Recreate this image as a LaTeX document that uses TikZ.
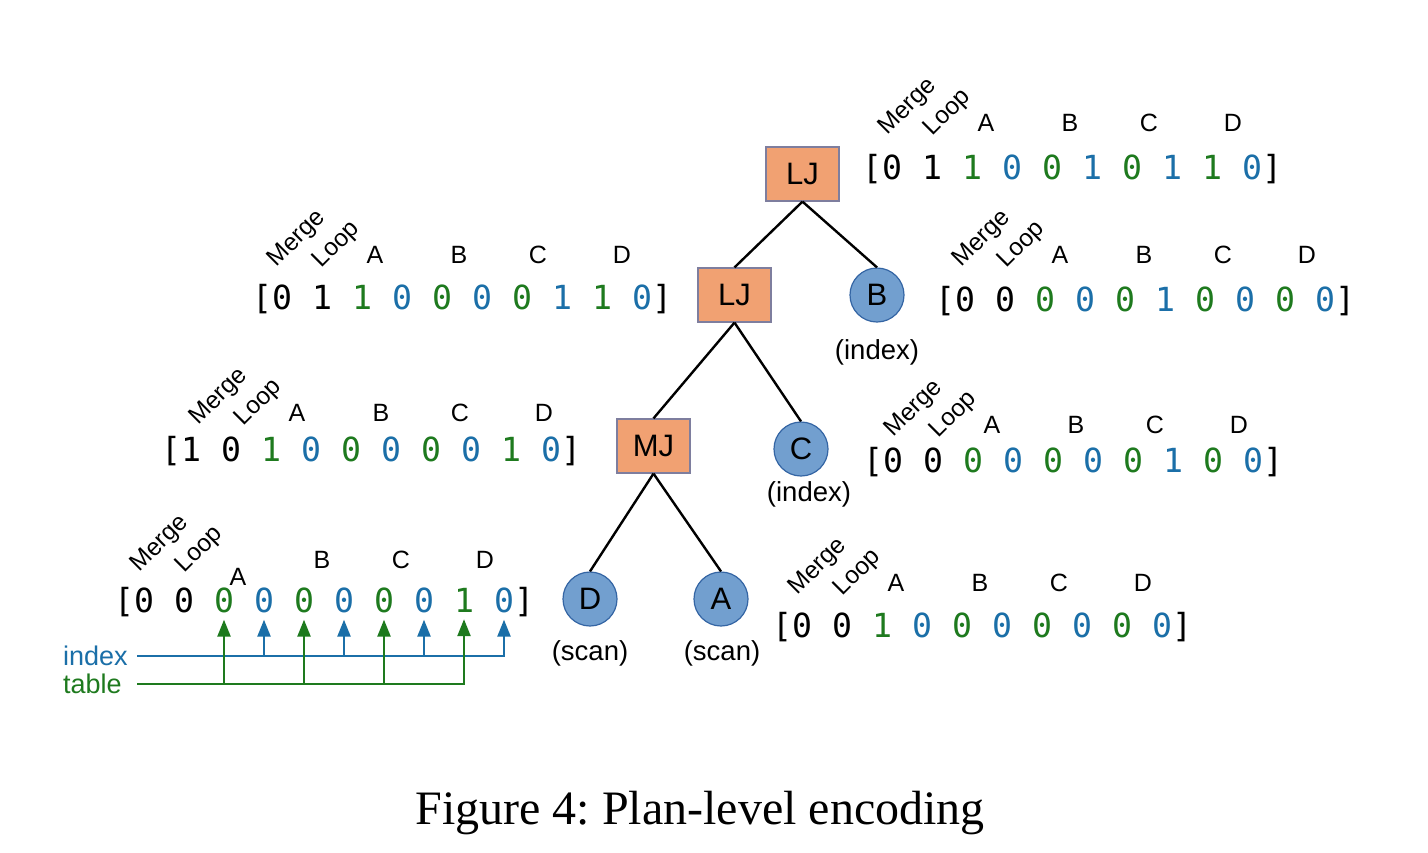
\documentclass[tikz,border=0pt]{standalone}
\usepackage{fontspec}
\setmainfont{Liberation Sans}
\newfontfamily\monof{DejaVu Sans Mono}
\newfontfamily\capf{Liberation Serif}
\usetikzlibrary{arrows.meta}
\frenchspacing
\definecolor{kk}{HTML}{000000}
\definecolor{gg}{HTML}{1E7A1E}
\definecolor{bb}{HTML}{1B6FA8}
\definecolor{boxfill}{HTML}{F1A172}
\definecolor{boxline}{HTML}{7E7E9E}
\definecolor{circfill}{HTML}{729FCF}
\definecolor{circline}{HTML}{3465A4}
\tikzset{
  op/.style={draw=boxline, line width=1.2pt, fill=boxfill, minimum width=73pt, minimum height=54pt, inner sep=0pt, font=\fontsize{31}{31}\selectfont},
  rel/.style={circle, draw=circline, line width=1.2pt, fill=circfill, minimum size=54pt, inner sep=0pt, font=\fontsize{31}{31}\selectfont},
  sub/.style={font=\fontsize{27.5}{27.5}\selectfont, inner sep=0pt},
  treeedge/.style={line width=2.4pt, black},
  dig/.style={font=\monof\fontsize{33.2}{33.2}\selectfont, inner sep=0pt, anchor=base},
  lab/.style={font=\fontsize{25}{25}\selectfont, inner sep=0pt},
  rlab/.style={font=\fontsize{24.5}{24.5}\selectfont, inner sep=0pt, rotate=45},
  side/.style={font=\fontsize{27}{27}\selectfont, inner sep=0pt, anchor=base west},
  iarrow/.style={draw=bb, line width=2.4pt, -{Triangle[width=13pt,length=17pt]}},
  tarrow/.style={draw=gg, line width=2.4pt, -{Triangle[width=13pt,length=17pt]}},
}
% #1 name, #2 first digit x, #3 digit centre y, #4 list digit/colour
\newcommand\bitrow[4]{%
  \node[dig] (#1-l) at ({#2-20},{#3+12.5}) {[};
  \foreach \d/\c [count=\i from 0] in {#4} {
    \node[dig, text=\c] (#1-\i) at ({#2+40*\i},{#3+12.5}) {\d};
  }
  \node[dig] (#1-r) at ({#2+380},{#3+12.5}) {]};
}
% #1 name, #2 A x, #3 label y, #4 extra drop of A
\newcommand\collabels[4]{%
  \node[rlab] (#1-merge) at ({#2-78},{#3-16}) {Merge};
  \node[rlab] (#1-loop) at ({#2-38},{#3-10}) {Loop};
  \node[lab] (#1-A) at ({#2},{#3+#4}) {A};
  \node[lab] (#1-B) at ({#2+84},{#3}) {B};
  \node[lab] (#1-C) at ({#2+163},{#3}) {C};
  \node[lab] (#1-D) at ({#2+247},{#3}) {D};
}
\begin{document}
\begin{tikzpicture}[x=1pt, y=-1pt]
\fill[white] (0,0) rectangle (1428,852);
\useasboundingbox (0,0) rectangle (1428,852);

% tree
\node[op] (lj1) at (802.5,174) {LJ};
\node[op] (lj2) at (734.5,295) {LJ};
\node[op] (mj) at (653.5,446) {MJ};
\node[rel] (b) at (877,295) {B};
\node[rel] (c) at (801,449) {C};
\node[rel] (d) at (590,599) {D};
\node[rel] (a) at (721,599) {A};
\node[sub] (bsub) at (877,352) {(index)};
\node[sub] (csub) at (809,494) {(index)};
\node[sub] (dsub) at (590,653) {(scan)};
\node[sub] (asub) at (722,653) {(scan)};
\draw[treeedge] (lj1.south) -- (lj2.north);
\draw[treeedge] (lj1.south) -- (b.north);
\draw[treeedge] (lj2.south) -- (mj.north);
\draw[treeedge] (lj2.south) -- (c.north);
\draw[treeedge] (mj.south) -- (d.north);
\draw[treeedge] (mj.south) -- (a.north);

% vectors
\bitrow{v1}{892}{167}{0/kk,1/kk,1/gg,0/bb,0/gg,1/bb,0/gg,1/bb,1/gg,0/bb}
\collabels{v1}{986}{123}{0}
\bitrow{v2}{282}{297}{0/kk,1/kk,1/gg,0/bb,0/gg,0/bb,0/gg,1/bb,1/gg,0/bb}
\collabels{v2}{375}{255}{0}
\bitrow{v3}{965}{299}{0/kk,0/kk,0/gg,0/bb,0/gg,1/bb,0/gg,0/bb,0/gg,0/bb}
\collabels{v3}{1060}{255}{0}
\bitrow{v4}{191}{449}{1/kk,0/kk,1/gg,0/bb,0/gg,0/bb,0/gg,0/bb,1/gg,0/bb}
\collabels{v4}{297}{413}{0}
\bitrow{v5}{893}{460}{0/kk,0/kk,0/gg,0/bb,0/gg,0/bb,0/gg,1/bb,0/gg,0/bb}
\collabels{v5}{992}{425}{0}
\bitrow{v6}{144}{600}{0/kk,0/kk,0/gg,0/bb,0/gg,0/bb,0/gg,0/bb,1/gg,0/bb}
\collabels{v6}{238}{560}{17}
\bitrow{v7}{802}{625}{0/kk,0/kk,1/gg,0/bb,0/gg,0/bb,0/gg,0/bb,0/gg,0/bb}
\collabels{v7}{896}{583}{0}

% index / table arrows
\node[side, text=bb] (idx) at (63,665) {index};
\node[side, text=gg] (tbl) at (63,693) {table};
\coordinate (istart) at (137,656);
\coordinate (tstart) at (137,684);
\draw[iarrow] (istart) -| ([yshift=-6.5pt]v6-9.south);
\foreach \k in {3,5,7} {
  \draw[iarrow] (v6-\k.south |- istart) -- ([yshift=-6.5pt]v6-\k.south);
}
\draw[tarrow] (tstart) -| ([yshift=-6.5pt]v6-8.south);
\foreach \k in {2,4,6} {
  \draw[tarrow] (v6-\k.south |- tstart) -- ([yshift=-6.5pt]v6-\k.south);
}

% caption
\node[font=\capf\fontsize{48}{48}\selectfont, anchor=base, inner sep=0pt] (cap) at (700,824) {Figure 4: Plan-level encoding};
\end{tikzpicture}
\end{document}
